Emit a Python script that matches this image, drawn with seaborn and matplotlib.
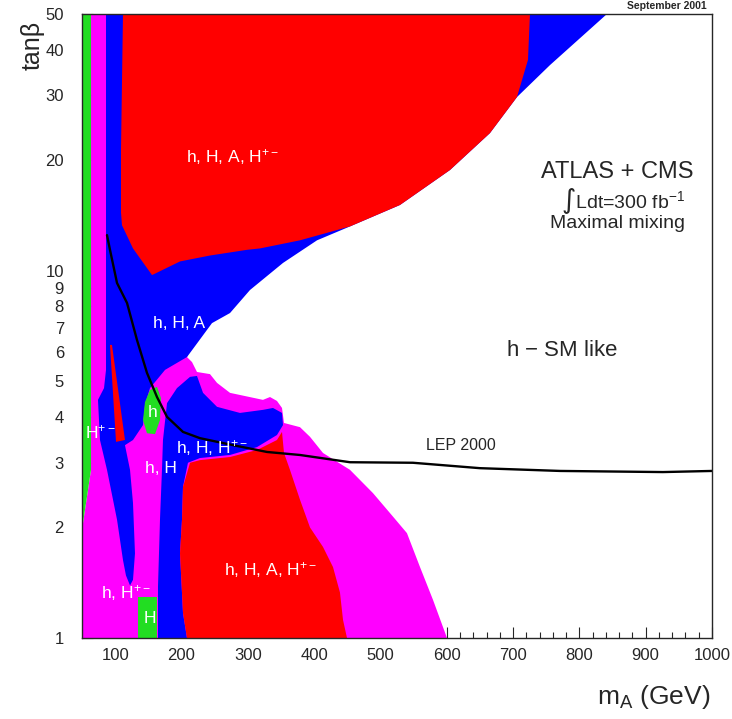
import matplotlib
matplotlib.use("Agg")
import matplotlib.pyplot as plt
from matplotlib.ticker import FixedLocator, FixedFormatter, MultipleLocator, NullLocator
import pandas as pd
import seaborn as sns

sns.set_style("ticks")
plt.rcParams['font.family'] = ['Liberation Sans', 'DejaVu Sans']
plt.rcParams['mathtext.default'] = 'regular'

RED = '#ff0000'
BLUE = '#0000ff'
MAGENTA = '#ff00ff'
GREEN = '#22dd22'

# region outlines: m_A (GeV), tan(beta)
magenta_ma = [63.6, 92.2, 227.9, 208.3, 215.9, 223.4, 243.0, 253.6, 273.2, 322.9, 333.5, 344.0,
              351.6, 354.6, 378.7, 393.8, 413.4, 454.1, 488.8, 519.0, 540.0, 559.7, 579.3, 600.4,
              50.0, 50.0, 63.6]
magenta_tb = [50, 50, 7.34, 5.82, 5.64, 5.30, 5.23, 4.95, 4.65, 4.45, 4.53, 4.42,
              4.23, 3.85, 3.75, 3.53, 3.19, 2.87, 2.48, 2.14, 1.93, 1.56, 1.27, 1.0,
              1.0, 1.97, 2.87]

blue_main_ma = [86.2, 841.6, 755.7, 705.9, 665.2, 604.9, 529.5, 454.1, 404.4, 353.1, 303.3, 273.2,
                246.0, 208.3, 175.2, 152.5, 145.0, 142.0, 126.9, 114.8, 122.4, 126.9, 129.9, 126.9,
                122.4, 116.3, 111.8, 102.8, 87.7, 77.1, 74.1, 83.2, 86.2]
blue_main_tb = [50, 50, 36.3, 29.7, 23.7, 18.8, 15.1, 13.2, 12.1, 10.5, 8.86, 7.67,
                7.20, 5.82, 5.37, 4.79, 4.31, 3.80, 3.46, 3.35, 2.87, 2.33, 1.70, 1.44,
                1.39, 1.48, 1.63, 2.10, 2.87, 3.46, 4.45, 4.79, 5.37]

blue_cres_ma = [212.9, 223.4, 232.5, 253.6, 288.2, 322.9, 338.0, 351.6, 353.1, 344.0, 313.9, 273.2,
                227.9, 209.8, 202.3, 200.8, 197.8, 202.3, 208.3, 164.6, 164.6, 167.6, 170.6, 172.1,
                178.2, 193.2]
blue_cres_tb = [5.14, 5.17, 4.65, 4.26, 4.10, 4.18, 4.23, 4.10, 3.80, 3.57, 3.31, 3.15,
                3.09, 3.0, 2.58, 2.10, 1.70, 1.17, 1.0, 1.0, 1.38, 2.10, 2.87, 3.46,
                4.36, 4.79]

red_top_ma = [111.8, 725.5, 722.5, 705.9, 665.2, 604.9, 529.5, 454.1, 378.7, 318.4, 298.8, 243.0,
              197.8, 155.6, 126.9, 110.3, 108.8, 108.8]
red_top_tb = [50, 50, 37.5, 29.7, 23.7, 18.8, 15.1, 13.2, 12.1, 11.5, 11.4, 11.0,
              10.6, 9.73, 11.5, 13.3, 14.4, 21.3]

red_low_ma = [208.3, 202.3, 197.8, 200.8, 202.3, 212.9, 227.9, 273.2, 313.9, 344.0, 351.6, 354.6,
              363.6, 378.7, 393.8, 413.4, 428.5, 439.0, 443.6, 449.6]
red_low_tb = [1.0, 1.17, 1.70, 2.10, 2.58, 3.0, 3.05, 3.11, 3.25, 3.46, 3.64, 3.19,
              2.87, 2.38, 2.0, 1.77, 1.56, 1.33, 1.12, 1.0]

red_stripe_ma = [92.2, 95.2, 114.8, 101.3]
red_stripe_tb = [6.28, 6.28, 3.46, 3.42]

green_strip_ma = [50, 63.6, 63.6, 50]
green_strip_tb = [50, 50, 2.87, 1.97]

green_blob_ma = [152.5, 163.1, 169.1, 167.6, 160.1, 148.0, 142.0, 145.0]
green_blob_tb = [4.73, 4.83, 4.50, 3.92, 3.59, 3.61, 3.92, 4.39]

green_box_ma = [134.4, 163.1, 163.1, 134.4]
green_box_tb = [1.29, 1.29, 1.0, 1.0]

# LEP 2000 exclusion curve
lep_ma = [87.7, 92.2, 102.8, 117.9, 132.9, 148.0, 163.1, 178.2, 202.3, 227.9, 277.7, 329.0,
          378.7, 454.1, 549.0, 650.0, 771.0, 926.0, 1000.0]
lep_tb = [12.5, 11.4, 9.26, 8.17, 6.48, 5.27, 4.53, 4.00, 3.64, 3.50, 3.35, 3.21,
          3.15, 3.01, 3.00, 2.90, 2.85, 2.83, 2.85]

y_ticks = [1, 2, 3, 4, 5, 6, 7, 8, 9, 10, 20, 30, 40, 50]
x_ticks = [100, 200, 300, 400, 500, 600, 700, 800, 900, 1000]

# labels inside regions: text, m_A, tan(beta)
region_labels = [
    ("h, H, A, H$^{+-}$", 277.7, 20.4),
    ("h, H, A", 196.3, 7.20),
    ("h, H, A, H$^{+-}$", 335.0, 1.53),
    ("h, H, H$^{+-}$", 246.0, 3.29),
    ("h, H", 169.1, 2.90),
    ("h, H$^{+-}$", 116.3, 1.33),
    ("H", 152.5, 1.13),
    ("h", 157.1, 4.10),
    ("H$^{+-}$", 77.1, 3.64),
]

fig = plt.figure(figsize=(7.32, 7.19), dpi=100)
ax = fig.add_axes([82 / 732, 1 - 638 / 719, 630 / 732, 624 / 719])
ax.set_yscale('log')

layers = [
    (magenta_ma, magenta_tb, MAGENTA),
    (blue_main_ma, blue_main_tb, BLUE),
    (blue_cres_ma, blue_cres_tb, BLUE),
    (red_top_ma, red_top_tb, RED),
    (red_low_ma, red_low_tb, RED),
    (red_stripe_ma, red_stripe_tb, RED),
    (green_strip_ma, green_strip_tb, GREEN),
    (green_blob_ma, green_blob_tb, GREEN),
    (green_box_ma, green_box_tb, GREEN),
]
for i, (xs, ys, c) in enumerate(layers):
    ax.fill(xs, ys, color=c, lw=0, zorder=1 + i * 0.1)

lep = pd.DataFrame({'ma': lep_ma, 'tb': lep_tb})
sns.lineplot(data=lep, x='ma', y='tb', color='black', lw=1.7, sort=False,
             estimator=None, ax=ax, zorder=5)

for txt, xm, yt in region_labels:
    ax.text(xm, yt, txt, color='white', fontsize=12.5, ha='center', va='center', zorder=6)

ax.text(773.8, 6.08, "h $-$ SM like", fontsize=16, ha='center', va='center', zorder=6)
ax.text(621.5, 3.35, "LEP 2000", fontsize=11.5, ha='center', va='center', zorder=6)

ax.set_xlim(50, 1000)
ax.set_ylim(1, 50)
ax.xaxis.set_major_locator(FixedLocator(x_ticks))
ax.xaxis.set_minor_locator(MultipleLocator(20))
ax.yaxis.set_major_locator(FixedLocator(y_ticks))
ax.yaxis.set_major_formatter(FixedFormatter([str(v) for v in y_ticks]))
ax.yaxis.set_minor_locator(NullLocator())
ax.tick_params(axis='x', which='major', direction='in', length=8, width=0.8, labelsize=12, pad=7)
ax.tick_params(axis='x', which='minor', direction='in', length=4, width=0.8)
ax.tick_params(axis='y', which='major', direction='in', length=8, width=0.8, labelsize=12, pad=13)
ax.set_xlabel("")
ax.set_ylabel("")
for s in ax.spines.values():
    s.set_linewidth(1.0)
    s.set_zorder(10)

fig.text(0.044, 0.937, "tanβ", rotation=90, ha='center', va='center', fontsize=18)
fig.text(0.970, 0.031, "m$_{A}$ (GeV)", ha='right', va='center', fontsize=19)
fig.text(0.843, 0.761, "ATLAS + CMS", ha='center', va='center', fontsize=17)
fig.text(0.851, 0.721, "∫Ldt=300 fb$^{-1}$", ha='center', va='center', fontsize=14)
fig.text(0.843, 0.689, "Maximal mixing", ha='center', va='center', fontsize=14)
fig.text(0.966, 0.992, "September 2001", ha='right', va='center', fontsize=7.5, fontweight='bold')

fig.savefig("out.png", dpi=100)
